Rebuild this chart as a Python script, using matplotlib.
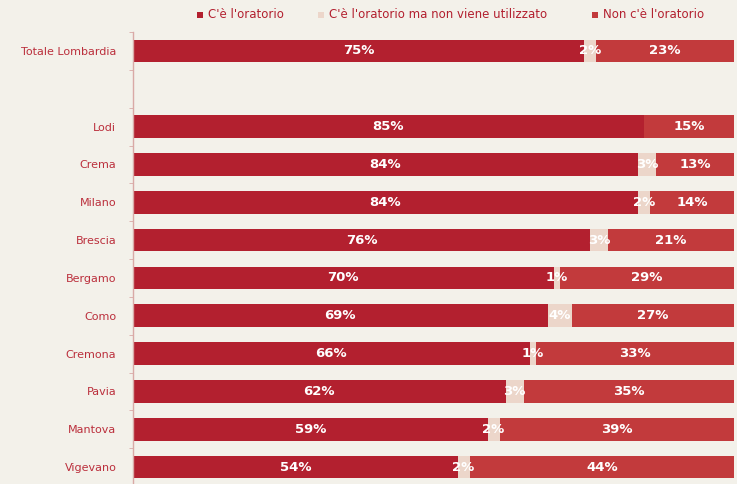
import matplotlib
matplotlib.use("Agg")
import matplotlib.pyplot as plt
from matplotlib.patches import Rectangle

categories = ["Totale Lombardia", "", "Lodi", "Crema", "Milano", "Brescia", "Bergamo",
              "Como", "Cremona", "Pavia", "Mantova", "Vigevano"]
c_oratorio = [75, None, 85, 84, 84, 76, 70, 69, 66, 62, 59, 54]
c_non_usato = [2, None, 0, 3, 2, 3, 1, 4, 1, 3, 2, 2]
non_oratorio = [23, None, 15, 13, 14, 21, 29, 27, 33, 35, 39, 44]
series_names = ["C'è l'oratorio", "C'è l'oratorio ma non viene utilizzato", "Non c'è l'oratorio"]

bg = "#f3f1ea"
col1 = "#b3202f"
col2 = "#ecd6ca"
col3 = "#c23a3c"
txt_red = "#b3202f"
colors = [col1, col2, col3]

W, H = 737, 484
fig = plt.figure(figsize=(W / 100, H / 100), dpi=100, facecolor=bg)
ax = fig.add_axes([133 / W, -2 / H, (734 - 133) / W, (486 - 32) / H], facecolor=bg)

n = len(categories)
ypos = list(range(n))
bh = 0.6

for i, (a, b, c) in enumerate(zip(c_oratorio, c_non_usato, non_oratorio)):
    if a is None:
        continue
    ax.barh(i, a, height=bh, color=col1, edgecolor="none")
    ax.barh(i, b, left=a, height=bh, color=col2, edgecolor="none")
    ax.barh(i, c, left=a + b, height=bh, color=col3, edgecolor="none")
    ax.text(a / 2, i, f"{a}%", ha="center", va="center", color="white",
            fontsize=9.5, fontweight="bold")
    if b:
        ax.text(a + b / 2, i, f"{b}%", ha="center", va="center", color="white",
                fontsize=9.5, fontweight="bold")
    ax.text(a + b + c / 2, i, f"{c}%", ha="center", va="center", color="white",
            fontsize=9.5, fontweight="bold")

ax.set_xlim(0, 100)
ax.set_ylim(n - 0.5, -0.5)
ax.set_yticks(ypos)
ax.set_yticklabels(categories, color="#bb2f3c", fontsize=8)
ax.set_yticks([k + 0.5 for k in range(-1, n)], minor=True)
ax.tick_params(axis="y", which="major", length=0, pad=12)
ax.tick_params(axis="y", which="minor", length=3, color="#d9a9a6", direction="out")
ax.set_xticks([])
for s in ["top", "right", "bottom"]:
    ax.spines[s].set_visible(False)
ax.spines["left"].set_color("#d9a9a6")
ax.spines["left"].set_linewidth(1)

# Legend row across the top
legend_x = [197, 318, 592]
legend_y = 15
for x0, name, col in zip(legend_x, series_names, colors):
    fig.patches.append(Rectangle((x0 / W, (H - legend_y - 3) / H), 6 / W, 6 / H,
                                 transform=fig.transFigure, facecolor=col,
                                 edgecolor="none"))
    fig.text((x0 + 11) / W, 1 - legend_y / H, name, ha="left", va="center",
             fontsize=8.5, color=txt_red)

fig.savefig("out.png", dpi=100, facecolor=bg)
